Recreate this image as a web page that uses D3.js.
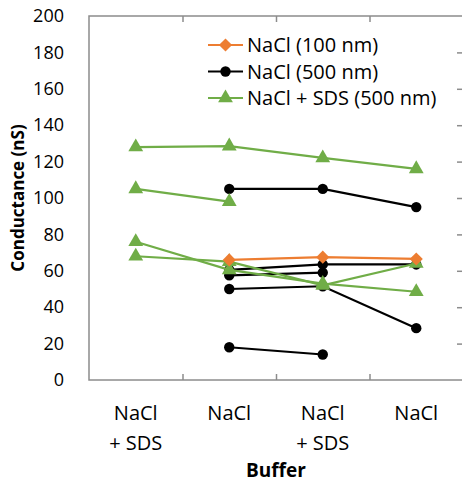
<!DOCTYPE html>
<html>
<head>
<meta charset="utf-8">
<script src="https://cdn.jsdelivr.net/npm/d3@7"></script>
<style>
  body { margin: 0; background: #fff; }
  text { font-family: "Open Sans", sans-serif; fill: #000; }
</style>
</head>
<body>
<div id="chart"></div>
<script>
const categories = [['NaCl', '+ SDS'], ['NaCl'], ['NaCl', '+ SDS'], ['NaCl']];
const yTicks = [0, 20, 40, 60, 80, 100, 120, 140, 160, 180, 200];

// each inner array is one line across the four buffers (null = no point)
const nacl100 = [
  [null, 66, 67.5, 66.5]
];
const nacl500 = [
  [null, 105, 105, 95],
  [null, 60.5, 63.5, 63.5],
  [null, 57.5, 59, null],
  [null, 50, 51.5, 28.5],
  [null, 18, 14, null]
];
const sds500 = [
  [128, 128.5, 122, 116],
  [105, 98, null, null],
  [76, 60.5, 53, 48.5],
  [68, 65, 52, 64]
];
const legendLabels = ['NaCl (100 nm)', 'NaCl (500 nm)', 'NaCl + SDS (500 nm)'];

const W = 462, H = 482;
const margin = { top: 16, right: -1, bottom: 102, left: 89 };

const svg = d3.select('#chart').append('svg')
  .attr('width', W)
  .attr('height', H);

const x = d3.scaleBand()
  .domain(d3.range(categories.length))
  .range([margin.left, W - margin.right])
  .padding(0);
const xEdge = d3.scaleLinear()
  .domain([0, categories.length])
  .range([margin.left, W - margin.right]);
const y = d3.scaleLinear()
  .domain([0, 200])
  .range([H - margin.bottom, margin.top]);

const frame = '#8c8c8c';

// frame
svg.append('rect')
  .attr('x', margin.left)
  .attr('y', margin.top)
  .attr('width', W - margin.right - margin.left)
  .attr('height', H - margin.bottom - margin.top)
  .attr('fill', 'none')
  .attr('stroke', frame)
  .attr('stroke-width', 1.5);

// inner ticks: top, bottom, right
const styleTicks = g => {
  g.select('.domain').remove();
  g.selectAll('line').attr('stroke', frame).attr('stroke-width', 1.5);
};
svg.append('g')
  .attr('transform', `translate(0,${margin.top})`)
  .call(d3.axisBottom(xEdge).tickValues([1, 2, 3]).tickSize(6).tickFormat(''))
  .call(styleTicks);
svg.append('g')
  .attr('transform', `translate(0,${H - margin.bottom})`)
  .call(d3.axisTop(xEdge).tickValues([1, 2, 3]).tickSize(6).tickFormat(''))
  .call(styleTicks);
svg.append('g')
  .attr('transform', `translate(${W - margin.right},0)`)
  .call(d3.axisLeft(y).tickValues(yTicks.slice(1, -1)).tickSize(6).tickFormat(''))
  .call(styleTicks);

// y labels
const yAxis = svg.append('g')
  .attr('transform', `translate(${margin.left},0)`)
  .call(d3.axisLeft(y).tickValues(yTicks).tickSize(0).tickPadding(25));
yAxis.select('.domain').remove();
yAxis.selectAll('text')
  .attr('font-size', '18px')
  .style('font-family', '"Open Sans", sans-serif')
  .attr('fill', '#000');

// x labels
const xAxis = svg.append('g')
  .attr('transform', `translate(0,${H - margin.bottom})`)
  .call(d3.axisBottom(x).tickSize(0).tickFormat(''));
xAxis.select('.domain').remove();
xAxis.selectAll('.tick').each(function (d) {
  const t = d3.select(this).append('text')
    .attr('text-anchor', 'middle')
    .attr('font-size', '20px')
    .attr('fill', '#000');
  categories[d].forEach((s, i) => {
    t.append('tspan').attr('x', 0).attr('y', 40 + i * 30).text(s);
  });
});

svg.append('text')
  .attr('x', (margin.left + W - margin.right) / 2)
  .attr('y', 477)
  .attr('text-anchor', 'middle')
  .attr('font-size', '19px')
  .attr('font-weight', 'bold')
  .text('Buffer');

svg.append('text')
  .attr('transform', `translate(24,${(margin.top + H - margin.bottom) / 2}) rotate(-90)`)
  .attr('text-anchor', 'middle')
  .attr('font-size', '17px')
  .attr('font-weight', 'bold')
  .text('Conductance (nS)');

const cx = i => x(i) + x.bandwidth() / 2;
const line = d3.line()
  .defined(d => d != null)
  .x((d, i) => cx(i))
  .y(d => y(d));

const diamond = d3.symbol().type(d3.symbolDiamond2).size(110);
const circle = d3.symbol().type(d3.symbolCircle).size(85);
const triangle = d3.symbol().type(d3.symbolTriangle).size(95);

const groups = [
  { data: nacl500, color: '#000000', sym: circle },
  { data: sds500, color: '#70ad47', sym: triangle },
  { data: nacl100, color: '#ed7d31', sym: diamond }
];

groups.forEach(gr => {
  const g = svg.append('g');
  gr.data.forEach(s => {
    g.append('path')
      .attr('d', line(s))
      .attr('fill', 'none')
      .attr('stroke', gr.color)
      .attr('stroke-width', 2.2);
    g.selectAll(null)
      .data(s.map((v, i) => ({ v, i })).filter(p => p.v != null))
      .enter().append('path')
      .attr('d', gr.sym)
      .attr('transform', p => `translate(${cx(p.i)},${y(p.v)})`)
      .attr('fill', gr.color);
  });
});

// legend
const legendSeries = [groups[2], groups[0], groups[1]];
const legend = svg.append('g').attr('transform', 'translate(208,45)');
legendSeries.forEach((gr, i) => {
  const row = legend.append('g').attr('transform', `translate(0,${i * 26.5})`);
  row.append('line')
    .attr('x1', 0).attr('x2', 35)
    .attr('stroke', gr.color)
    .attr('stroke-width', 2.2);
  row.append('path')
    .attr('d', gr.sym)
    .attr('transform', 'translate(17.5,0)')
    .attr('fill', gr.color);
  row.append('text')
    .attr('x', 39)
    .attr('dy', '0.35em')
    .attr('font-size', '20px')
    .text(legendLabels[i]);
});
</script>
</body>
</html>
